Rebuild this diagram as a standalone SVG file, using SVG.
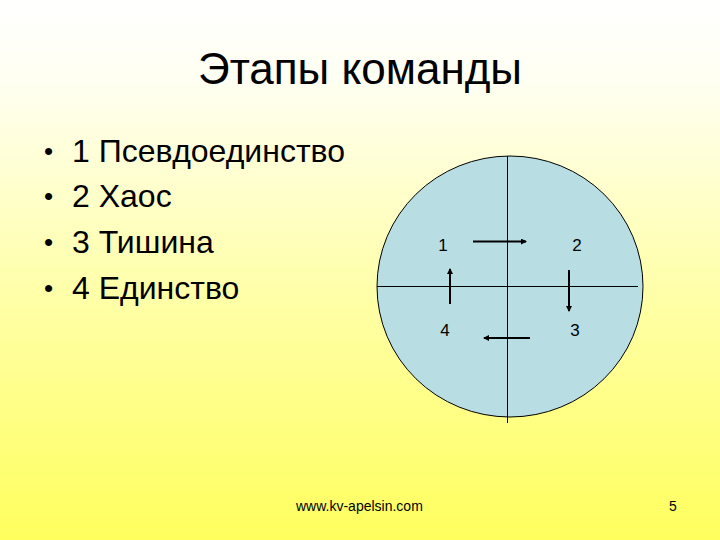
<svg xmlns="http://www.w3.org/2000/svg" width="720" height="540" viewBox="0 0 720 540">
<defs>
<linearGradient id="bg" x1="0" y1="0" x2="0" y2="1">
<stop offset="0" stop-color="#ffffff"/>
<stop offset="0.15" stop-color="#fffff2"/>
<stop offset="0.5" stop-color="#ffffb0"/>
<stop offset="1" stop-color="#ffff5e"/>
</linearGradient>
<marker id="ah" markerWidth="6" markerHeight="6" refX="5" refY="3" orient="auto" markerUnits="userSpaceOnUse">
<path d="M0,0 L6,3 L0,6 Z" fill="#000"/>
</marker>
<style>
.t{font-family:"Liberation Sans",Arial,sans-serif;fill:#000}
.lbl{font-size:17px}
.arr{stroke:#000;stroke-width:2;fill:none;marker-end:url(#ah)}
.ax{stroke:#000;stroke-width:1;fill:none}
.b{font-size:26px}
</style>
</defs>
<rect width="720" height="540" fill="url(#bg)"/>
<text class="t" x="360" y="84" font-size="44" text-anchor="middle">Этапы команды</text>
<g id="list" class="t" font-size="32">
<text class="b" x="44" y="160">•</text><text x="72" y="162">1 Псевдоединство</text>
<text class="b" x="44" y="205">•</text><text x="72" y="207">2 Хаос</text>
<text class="b" x="44" y="251">•</text><text x="72" y="253">3 Тишина</text>
<text class="b" x="44" y="297">•</text><text x="72" y="299">4 Единство</text>
</g>
<g id="circle">
<ellipse cx="510" cy="286.5" rx="133" ry="130.5" fill="#b8dde3" stroke="#000" stroke-width="1"/>
<line class="ax" x1="507.5" y1="156" x2="507.5" y2="423"/>
<line class="ax" x1="377" y1="286.5" x2="638" y2="286.5"/>
</g>
<g id="labels" class="t lbl">
<text x="443" y="251" text-anchor="middle">1</text>
<text x="577" y="251" text-anchor="middle">2</text>
<text x="575" y="336" text-anchor="middle">3</text>
<text x="445" y="336" text-anchor="middle">4</text>
</g>
<g id="connectors">
<line class="arr" x1="473" y1="241.5" x2="526" y2="241.5"/>
<line class="arr" x1="569" y1="270" x2="569" y2="311"/>
<line class="arr" x1="530" y1="338" x2="484" y2="338"/>
<line class="arr" x1="450" y1="304" x2="450" y2="269"/>
</g>
<text class="t" x="296" y="511" font-size="14">www.kv-apelsin.com</text>
<text class="t" x="669" y="511" font-size="14">5</text>
</svg>
